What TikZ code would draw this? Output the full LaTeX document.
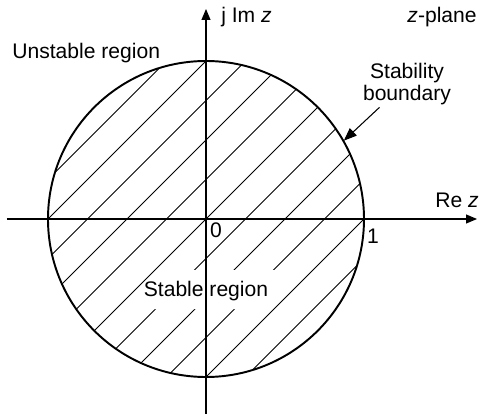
\documentclass[tikz,border=0pt]{standalone}
\usepackage{fontspec}
\setmainfont{Liberation Sans}
\usetikzlibrary{arrows.meta}

\tikzset{
  lbl/.style={font=\fontsize{12}{13}\selectfont, inner sep=0pt},
  axis/.style={line width=0.6pt, -{Triangle[length=2.2mm,width=1.8mm]}},
  hatch/.style={line width=0.5pt},
}

\begin{document}
\begin{tikzpicture}
\useasboundingbox (-4.12,-3.96) rectangle (5.46,4.38);

% Hatching inside the unit circle
\begin{scope}
\clip (0,0) circle (3.16);
\foreach \k in {-5,...,5}
  \draw[hatch] (\k*0.79-4,-4) -- (\k*0.79+4,4);
\end{scope}

% Gap in the hatching behind the label
\fill[white] (-0.96,-1.02) -- (1.40,-1.02) -- (1.30,-1.80) -- (-1.20,-1.80) -- cycle;

% Axes
\draw[axis] (-3.98,0) -- (5.42,0);
\draw[axis] (0,-3.90) -- (0,4.20);

% Stability boundary
\draw[line width=1.1pt] (0,0) circle (3.16);
\coordinate (bnd) at (29.6:3.17);

% Labels
\node[lbl, anchor=west] (im) at (0.30,4.04) {j Im \textit{z}};
\node[lbl, anchor=east] (plane) at (5.42,4.04) {\textit{z}-plane};
\node[lbl, anchor=west] (unstable) at (-3.88,3.32) {Unstable region};
\node[lbl, align=center, inner sep=1pt] (stab) at (4.02,2.70) {Stability\\boundary};
\node[lbl, anchor=east] (re) at (5.46,0.38) {Re \textit{z}};
\node[lbl] (zero) at (0.20,-0.22) {0};
\node[lbl] (one) at (3.34,-0.34) {1};
\node[lbl] (stable) at (0,-1.44) {Stable region};

% Pointer to the boundary
\draw[line width=0.6pt, -{Triangle[length=2.6mm,width=2mm]}] ([xshift=-0.55cm]stab.south) -- (bnd);

\end{tikzpicture}
\end{document}
